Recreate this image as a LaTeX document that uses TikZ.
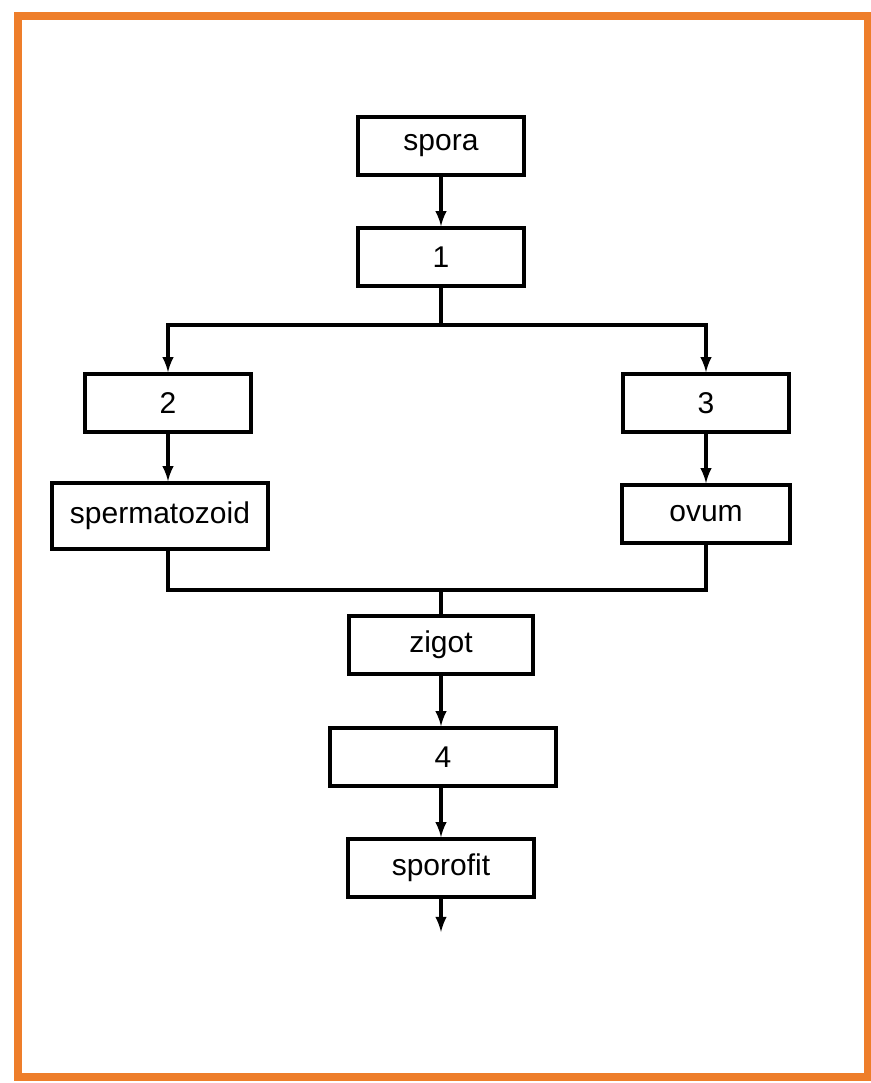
\documentclass[tikz,border=0pt]{standalone}
\usepackage{fontspec}
\setmainfont{Liberation Sans}
\definecolor{frameorange}{RGB}{238,126,42}
\begin{document}
\begin{tikzpicture}[
          x = 0.5pt, y = -0.5pt,
          box/.style = {draw, line width = 1.8pt, minimum width = 83pt, minimum height = 29pt,
                        inner sep = 1pt, font = \fontsize{15}{18}\selectfont},
          link/.style = {draw, line width = 1.6pt},
          >=latex,
        ]
        \useasboundingbox (0,0) rectangle (871,1083);
        \draw[frameorange, line width = 4pt] (18,16) rectangle (868,1077);

        \node[box] (spora) at (441,146) {spora};
        \node[box] (1) at (441,257) {1};
        \node[box] (2) at (168,403) {2};
        \node[box] (3) at (706,403) {3};
        \node[box, minimum width = 108pt, minimum height = 33pt] (sperm) at (160,516) {spermatozoid};
        \node[box, minimum width = 84pt] (ovum) at (706,514) {ovum};
        \node[box, minimum width = 92pt] (zigot) at (441,645) {zigot};
        \node[box, minimum width = 113pt] (4) at (443,757) {4};
        \node[box, minimum width = 93pt] (sporofit) at (441,868) {sporofit};
        \coordinate (split) at (441,325);
        \coordinate (join) at (441,590);
        \coordinate (end) at (441,932);

        \draw[link,->] (spora) -- (1);
        \draw[link] (1) -- (split);
        \draw[link,->] (split) -| (2);
        \draw[link,->] (split) -| (3);
        \draw[link,->] (2) -- (2 |- sperm.north);
        \draw[link,->] (3) -- (ovum);
        \draw[link] (2 |- sperm.south) |- (join) -| (ovum);
        \draw[link] (join) -- (zigot);
        \draw[link,->] (zigot) -- (zigot |- 4.north);
        \draw[link,->] (4.south -| sporofit) -- (sporofit);
        \draw[link,->] (sporofit) -- (end);
      \end{tikzpicture}
\end{document}
